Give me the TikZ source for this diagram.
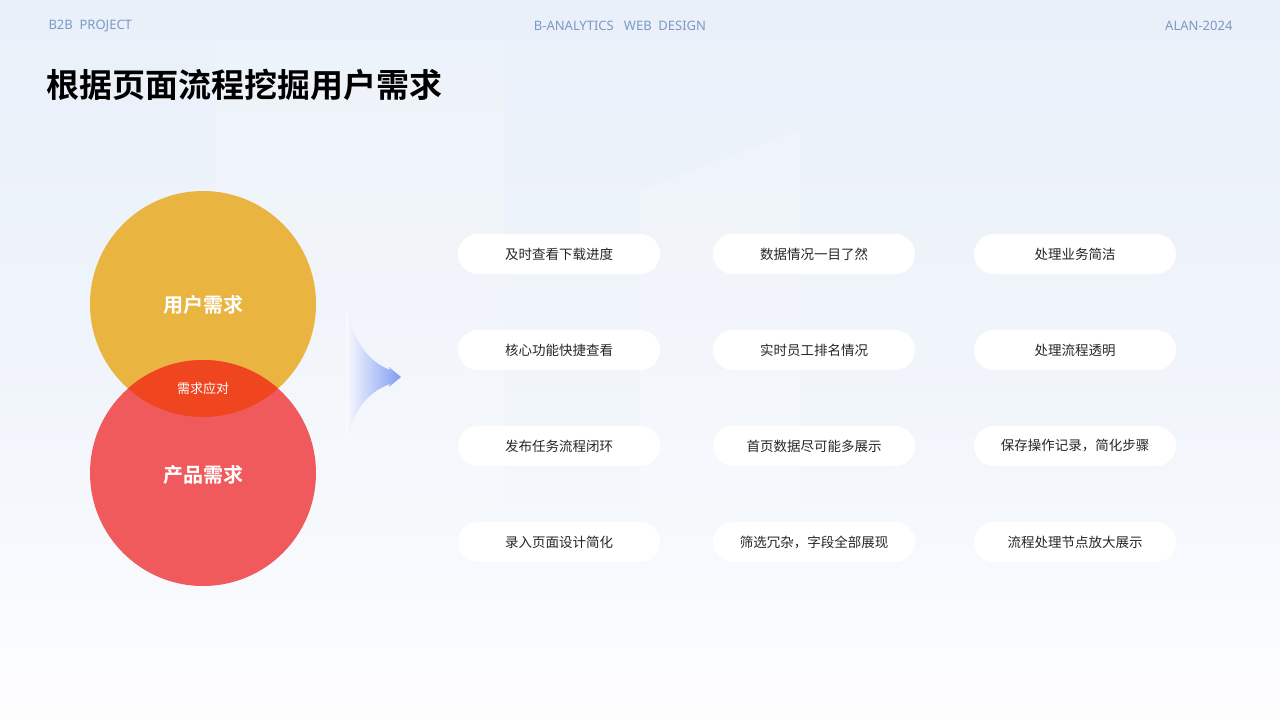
\documentclass[tikz,border=0pt]{standalone}
\usepackage{fontspec}
\setmainfont{Noto Sans}
\newfontfamily\cjk{Noto Sans CJK SC}
\newfontfamily\cjkb{Noto Sans CJK SC Bold}
\usetikzlibrary{shapes.misc}
\definecolor{hdr}{HTML}{7C99C4}
\definecolor{ylw}{HTML}{EAB440}
\definecolor{rd}{HTML}{F05A5C}
\definecolor{ovl}{HTML}{F0461F}
\definecolor{bgA}{HTML}{E9F0F9}
\definecolor{bgB}{HTML}{FBFCFE}
\definecolor{arr}{HTML}{7E9CF2}
\tikzset{
 hd/.style={text=hdr,font=\fontsize{13}{15}\selectfont},
 pill/.style={rounded rectangle,fill=white,minimum width=202pt,minimum height=40pt,rounded rectangle arc length=180,inner xsep=0pt,text width=182pt,align=center,font=\cjk\fontsize{13.5}{16}\selectfont,text=black!85},
}
\begin{document}
\begin{tikzpicture}[x=1pt,y=-1pt]
\useasboundingbox (0,0) rectangle (1280,720);
\shade[top color=bgA,bottom color=bgB,middle color=bgA!60!bgB] (0,0) rectangle (1280,720);
\fill[white,opacity=0.18] (215,40) rectangle (505,560);
\fill[white,opacity=0.18] (640,190) -- (800,130) -- (800,560) -- (640,560) -- cycle;
\shade[top color=bgB,bottom color=white,opacity=0.6] (0,600) rectangle (1280,720);
\node[hd,anchor=west] (h1) at (45,26) {B2B\ \ PROJECT};
\node[hd] (h2) at (620,26) {B-ANALYTICS\ \ \ WEB\ \ DESIGN};
\node[hd,anchor=east] (h3) at (1236,26) {ALAN-2024};
\node[anchor=west,font=\cjkb\fontsize{33}{38}\selectfont,inner xsep=0pt] (t) at (46,85) {根据页面流程挖掘用户需求};
% circles
\fill[ylw] (203,304) circle (113);
\fill[rd] (203,473) circle (113);
\begin{scope}
\clip (203,304) circle (113);
\fill[ovl] (203,473) circle (113);
\end{scope}
\node[text=white,font=\cjkb\fontsize{20}{22}\selectfont] (u) at (203,305) {用户需求};
\node[text=white,font=\cjkb\fontsize{20}{22}\selectfont] (p) at (203,475) {产品需求};
\node[text=white,font=\cjk\fontsize{13}{15}\selectfont] (o) at (203,389) {需求应对};
% arrow swoosh
\shade[left color=arr!5,right color=arr] (346,308) .. controls (355,345) and (370,362) .. (390,370) -- (389,367) -- (401,377) -- (389,387) -- (390,384) .. controls (368,392) and (352,410) .. (346,446) -- cycle;
% pills
\node[pill] (a1) at (559,254) {及时查看下载进度};
\node[pill] (b1) at (814,254) {数据情况一目了然};
\node[pill] (c1) at (1075,254) {处理业务简洁};
\node[pill] (a2) at (559,350) {核心功能快捷查看};
\node[pill] (b2) at (814,350) {实时员工排名情况};
\node[pill] (c2) at (1075,350) {处理流程透明};
\node[pill] (a3) at (559,446) {发布任务流程闭环};
\node[pill] (b3) at (814,446) {首页数据尽可能多展示};
\node[pill] (c3) at (1075,446) {保存操作记录，简化步骤};
\node[pill] (a4) at (559,542) {录入页面设计简化};
\node[pill] (b4) at (814,542) {筛选冗杂，字段全部展现};
\node[pill] (c4) at (1075,542) {流程处理节点放大展示};
\end{tikzpicture}
\end{document}
